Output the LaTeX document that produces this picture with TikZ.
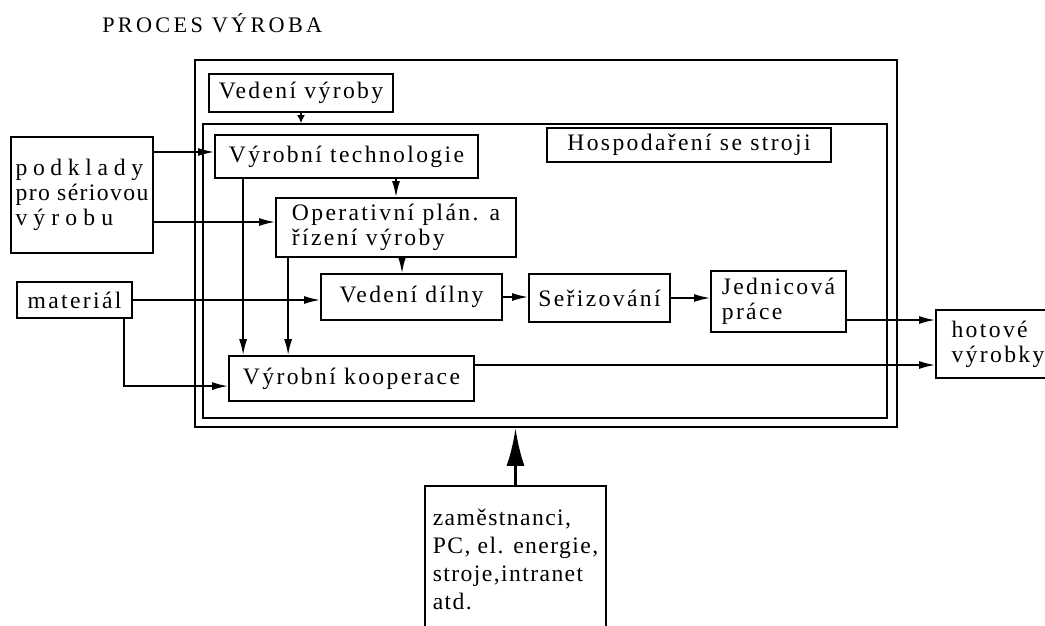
\documentclass[tikz,border=0pt]{standalone}
\usepackage{fontspec}
\setmainfont{Liberation Serif}[LetterSpace=10]
\usetikzlibrary{arrows.meta}

\begin{document}
\begin{tikzpicture}[x=0.025cm, y=-0.025cm,
		box/.style={draw, black, line width=1.2pt, inner sep=0pt, align=left,
			font=\fontsize{16.8}{17.8}\selectfont},
		frame/.style={draw, black, line width=1.2pt, inner sep=0pt},
		>={Latex[length=0.4cm, width=0.2cm]}]
		\useasboundingbox (0, 0) rectangle (1045, 625);
		% title and the two frames
		\node (title) [anchor=base west, inner sep=0pt,
			font=\fontsize{15.8}{18}\selectfont\addfontfeature{LetterSpace=15}] at (102, 32) {PROCES VÝROBA};
		\node (outer) [frame, minimum width=17.55cm, minimum height=9.175cm] at (546, 243.5) {};
		\node (inner) [frame, minimum width=17.1cm, minimum height=7.35cm] at (545, 271) {};
		% boxes
		\node (vv) [box, minimum width=4.6cm, minimum height=0.95cm] at (301, 93) {Vedení výroby};
		\node (hs) [box, minimum width=7.1cm, minimum height=0.85cm] at (689, 145) {Hospodaření se stroji};
		\node (vt) [box, minimum width=6.575cm, minimum height=1.075cm] at (346.5, 156.5) {Výrobní technologie};
		\node (pk) [box, minimum width=3.55cm, minimum height=2.9cm] at (82, 195)
			{{\addfontfeature{LetterSpace=24}podklady}\\{\addfontfeature{LetterSpace=6}pro sériovou}\\{\addfontfeature{LetterSpace=26}výrobu}};
		\node (op) [box, minimum width=6cm, minimum height=1.475cm] at (396, 227.5) {Operativní plán. a\\řízení výroby};
		\node (mat) [box, minimum width=2.875cm, minimum height=0.9cm] at (74.5, 300) {materiál};
		\node (vd) [box, minimum width=4.525cm, minimum height=1.15cm] at (411.5, 297) {Vedení dílny};
		\node (sz) [box, minimum width=3.525cm, minimum height=1.2cm] at (599.5, 298) {Seřizování};
		\node (jd) [box, minimum width=3.375cm, minimum height=1.525cm] at (778.5, 301.5) {Jednicová\\práce};
		\node (ko) [box, minimum width=6.125cm, minimum height=1.125cm] at (351.5, 378.5) {Výrobní kooperace};
		\node (ht) [box, minimum width=3.1cm, minimum height=1.7cm] at (998, 344) {hotové\\výrobky};
		\node (rs) [box, minimum width=4.525cm, minimum height=3.65cm,
			font=\fontsize{16.8}{19.9}\selectfont\addfontfeature{LetterSpace=6}] at (515.5, 559)
			{zaměstnanci,\\PC, el. energie,\\stroje,intranet\\atd.};
		% connectors
		\draw[line width=1.2pt, -{Latex[length=0.2cm, width=0.2cm]}] (vv) -- (vv |- inner.north);
		\draw[line width=1.2pt, ->] ([yshift=1.075cm]pk.east) -- ([yshift=1.075cm]pk.east -| vt.west);
		\draw[line width=1.2pt, ->] ([yshift=-0.675cm]pk.east) -- ([yshift=-0.675cm]pk.east -| op.west);
		\draw[line width=1.2pt, ->] (op.north |- vt.south) -- (op.north);
		\draw[line width=1.2pt, ->] ([xshift=0.725cm]vt.south west) -- ([xshift=0.725cm]vt.south west |- ko.north);
		\draw[line width=1.2pt, ->] ([xshift=0.325cm]op.south west) -- ([xshift=0.325cm]op.south west |- ko.north);
		\draw[line width=1.2pt, ->] ([xshift=0.15cm]op.south) -- ([xshift=0.15cm]op.south |- vd.north);
		\draw[line width=1.2pt, ->] (mat) -- (mat -| vd.west);
		\draw[line width=1.2pt, ->] ([xshift=-0.225cm]mat.south east) |- ([yshift=-0.19cm]ko.west);
		\draw[line width=1.2pt, ->] (vd) -- (vd -| sz.west);
		\draw[line width=1.2pt, ->] (sz) -- (sz -| jd.west);
		\draw[line width=1.2pt, ->] ([yshift=-0.4625cm]jd.east) -- ([yshift=-0.4625cm]jd.east -| ht.west);
		\draw[line width=1.2pt, ->] ([yshift=0.3375cm]ko.east) -- ([yshift=0.3375cm]ko.east -| ht.west);
		\draw[line width=2.4pt, -{Latex[length=0.95cm, width=0.45cm]}] (rs) -- (rs |- outer.south);
	\end{tikzpicture}
\end{document}
